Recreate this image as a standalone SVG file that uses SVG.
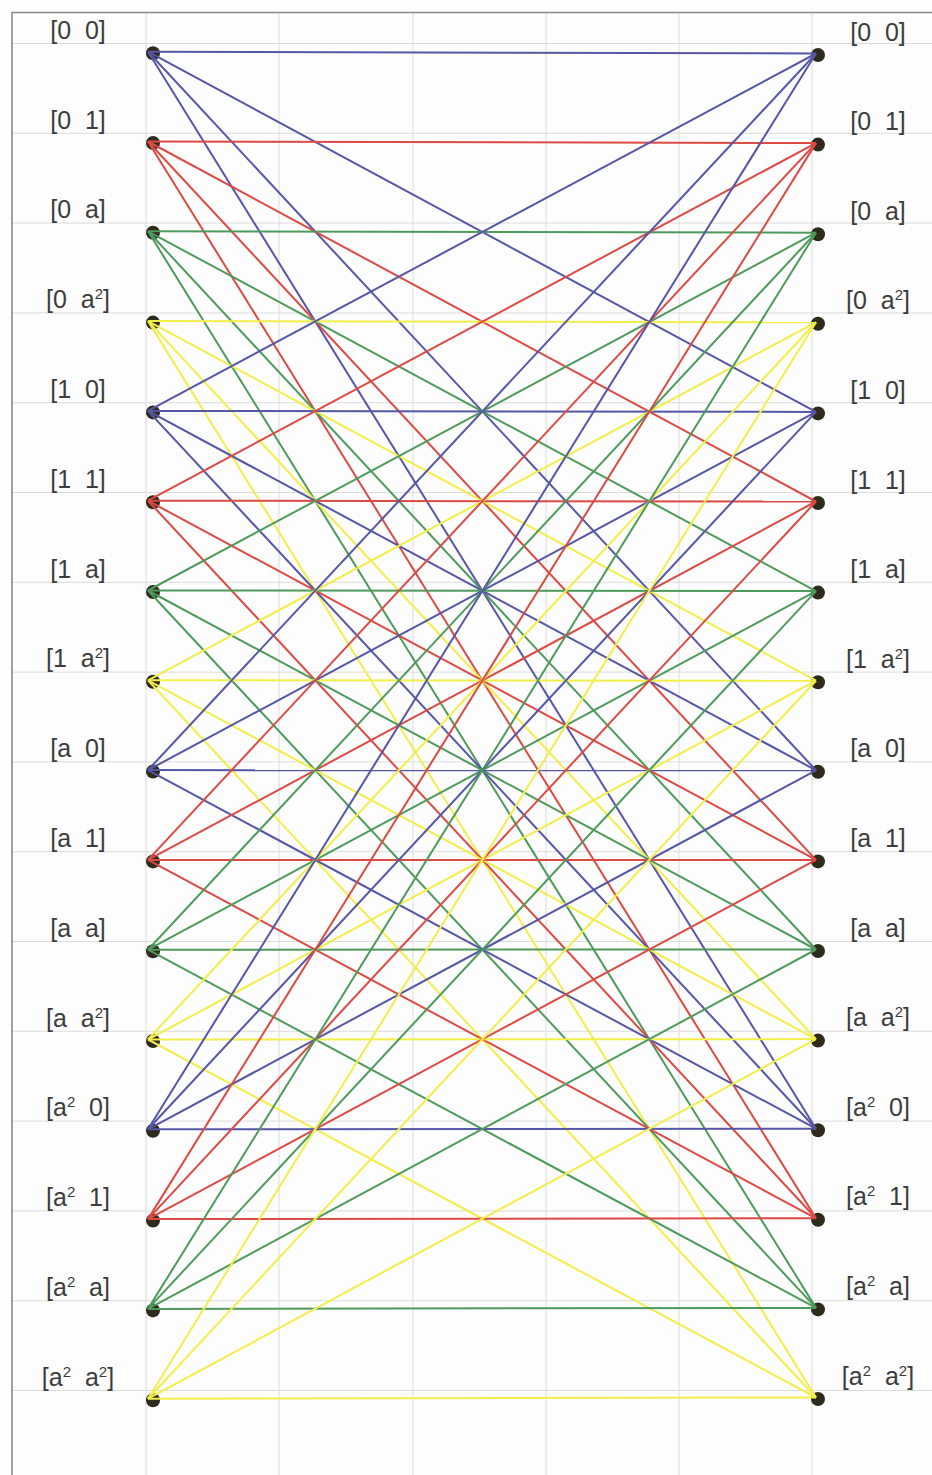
<svg xmlns="http://www.w3.org/2000/svg" width="932" height="1475" viewBox="0 0 932 1475">
<style>
.bg{fill:#fdfdfd}
.grid{stroke:#dcdcdc;stroke-width:1;fill:none}
.border{stroke:#8a8a8a;stroke-width:1.6;fill:none}
.dot{fill:#2e2a1c}
.lbl{font-family:"Liberation Sans",Arial,sans-serif;font-size:25px;fill:#3c3c3c;text-anchor:middle;white-space:pre}
.sup{font-size:15px}
.b{stroke:#5656a6;stroke-width:2}
.r{stroke:#dc4a44;stroke-width:2}
.g{stroke:#4e9a5c;stroke-width:2}
.y{stroke:#f2ee4a;stroke-width:2}
</style>
<rect class="bg" x="0" y="0" width="932" height="1475"/>
<g id="grid"><path class="grid" d="M146 12V1475M279 12V1475M413 12V1475M546 12V1475M679 12V1475M812 12V1475M12 43.5H932M12 133.3H932M12 223.1H932M12 312.9H932M12 402.7H932M12 492.5H932M12 582.3H932M12 672.1H932M12 761.9H932M12 851.7H932M12 941.5H932M12 1031.3H932M12 1121.1H932M12 1210.9H932M12 1300.7H932M12 1390.5H932"/><path class="border" d="M12 1475V12.5H932"/></g>
<g id="nodes-left">
<g id="L-0-0"><circle class="dot" cx="153" cy="53.2" r="7"/><text class="lbl" xml:space="preserve" x="78" y="38.7">[0  0]</text></g>
<g id="L-0-1"><circle class="dot" cx="153" cy="143" r="7"/><text class="lbl" xml:space="preserve" x="78" y="128.5">[0  1]</text></g>
<g id="L-0-a"><circle class="dot" cx="153" cy="232.8" r="7"/><text class="lbl" xml:space="preserve" x="78" y="218.3">[0  a]</text></g>
<g id="L-0-a2"><circle class="dot" cx="153" cy="322.6" r="7"/><text class="lbl" xml:space="preserve" x="78" y="308.1">[0  a<tspan class="sup" dy="-9">2</tspan><tspan dy="9">]</tspan></text></g>
<g id="L-1-0"><circle class="dot" cx="153" cy="412.4" r="7"/><text class="lbl" xml:space="preserve" x="78" y="397.9">[1  0]</text></g>
<g id="L-1-1"><circle class="dot" cx="153" cy="502.2" r="7"/><text class="lbl" xml:space="preserve" x="78" y="487.7">[1  1]</text></g>
<g id="L-1-a"><circle class="dot" cx="153" cy="592" r="7"/><text class="lbl" xml:space="preserve" x="78" y="577.5">[1  a]</text></g>
<g id="L-1-a2"><circle class="dot" cx="153" cy="681.8" r="7"/><text class="lbl" xml:space="preserve" x="78" y="667.3">[1  a<tspan class="sup" dy="-9">2</tspan><tspan dy="9">]</tspan></text></g>
<g id="L-a-0"><circle class="dot" cx="153" cy="771.6" r="7"/><text class="lbl" xml:space="preserve" x="78" y="757.1">[a  0]</text></g>
<g id="L-a-1"><circle class="dot" cx="153" cy="861.4" r="7"/><text class="lbl" xml:space="preserve" x="78" y="846.9">[a  1]</text></g>
<g id="L-a-a"><circle class="dot" cx="153" cy="951.2" r="7"/><text class="lbl" xml:space="preserve" x="78" y="936.7">[a  a]</text></g>
<g id="L-a-a2"><circle class="dot" cx="153" cy="1041" r="7"/><text class="lbl" xml:space="preserve" x="78" y="1026.5">[a  a<tspan class="sup" dy="-9">2</tspan><tspan dy="9">]</tspan></text></g>
<g id="L-a2-0"><circle class="dot" cx="153" cy="1130.8" r="7"/><text class="lbl" xml:space="preserve" x="78" y="1116.3">[a<tspan class="sup" dy="-9">2</tspan><tspan dy="9">  0]</tspan></text></g>
<g id="L-a2-1"><circle class="dot" cx="153" cy="1220.6" r="7"/><text class="lbl" xml:space="preserve" x="78" y="1206.1">[a<tspan class="sup" dy="-9">2</tspan><tspan dy="9">  1]</tspan></text></g>
<g id="L-a2-a"><circle class="dot" cx="153" cy="1310.4" r="7"/><text class="lbl" xml:space="preserve" x="78" y="1295.9">[a<tspan class="sup" dy="-9">2</tspan><tspan dy="9">  a]</tspan></text></g>
<g id="L-a2-a2"><circle class="dot" cx="153" cy="1400.2" r="7"/><text class="lbl" xml:space="preserve" x="78" y="1385.7">[a<tspan class="sup" dy="-9">2</tspan><tspan dy="9">  a</tspan><tspan class="sup" dy="-9">2</tspan><tspan dy="9">]</tspan></text></g>
</g>
<g id="nodes-right">
<g id="R-0-0"><circle class="dot" cx="818" cy="55" r="7"/><text class="lbl" xml:space="preserve" x="878" y="40.5">[0  0]</text></g>
<g id="R-0-1"><circle class="dot" cx="818" cy="144.6" r="7"/><text class="lbl" xml:space="preserve" x="878" y="130.1">[0  1]</text></g>
<g id="R-0-a"><circle class="dot" cx="818" cy="234.2" r="7"/><text class="lbl" xml:space="preserve" x="878" y="219.7">[0  a]</text></g>
<g id="R-0-a2"><circle class="dot" cx="818" cy="323.8" r="7"/><text class="lbl" xml:space="preserve" x="878" y="309.3">[0  a<tspan class="sup" dy="-9">2</tspan><tspan dy="9">]</tspan></text></g>
<g id="R-1-0"><circle class="dot" cx="818" cy="413.4" r="7"/><text class="lbl" xml:space="preserve" x="878" y="398.9">[1  0]</text></g>
<g id="R-1-1"><circle class="dot" cx="818" cy="503" r="7"/><text class="lbl" xml:space="preserve" x="878" y="488.5">[1  1]</text></g>
<g id="R-1-a"><circle class="dot" cx="818" cy="592.6" r="7"/><text class="lbl" xml:space="preserve" x="878" y="578.1">[1  a]</text></g>
<g id="R-1-a2"><circle class="dot" cx="818" cy="682.2" r="7"/><text class="lbl" xml:space="preserve" x="878" y="667.7">[1  a<tspan class="sup" dy="-9">2</tspan><tspan dy="9">]</tspan></text></g>
<g id="R-a-0"><circle class="dot" cx="818" cy="771.8" r="7"/><text class="lbl" xml:space="preserve" x="878" y="757.3">[a  0]</text></g>
<g id="R-a-1"><circle class="dot" cx="818" cy="861.4" r="7"/><text class="lbl" xml:space="preserve" x="878" y="846.9">[a  1]</text></g>
<g id="R-a-a"><circle class="dot" cx="818" cy="951" r="7"/><text class="lbl" xml:space="preserve" x="878" y="936.5">[a  a]</text></g>
<g id="R-a-a2"><circle class="dot" cx="818" cy="1040.6" r="7"/><text class="lbl" xml:space="preserve" x="878" y="1026.1">[a  a<tspan class="sup" dy="-9">2</tspan><tspan dy="9">]</tspan></text></g>
<g id="R-a2-0"><circle class="dot" cx="818" cy="1130.2" r="7"/><text class="lbl" xml:space="preserve" x="878" y="1115.7">[a<tspan class="sup" dy="-9">2</tspan><tspan dy="9">  0]</tspan></text></g>
<g id="R-a2-1"><circle class="dot" cx="818" cy="1219.8" r="7"/><text class="lbl" xml:space="preserve" x="878" y="1205.3">[a<tspan class="sup" dy="-9">2</tspan><tspan dy="9">  1]</tspan></text></g>
<g id="R-a2-a"><circle class="dot" cx="818" cy="1309.4" r="7"/><text class="lbl" xml:space="preserve" x="878" y="1294.9">[a<tspan class="sup" dy="-9">2</tspan><tspan dy="9">  a]</tspan></text></g>
<g id="R-a2-a2"><circle class="dot" cx="818" cy="1399" r="7"/><text class="lbl" xml:space="preserve" x="878" y="1384.5">[a<tspan class="sup" dy="-9">2</tspan><tspan dy="9">  a</tspan><tspan class="sup" dy="-9">2</tspan><tspan dy="9">]</tspan></text></g>
</g>
<g id="connectors">
<line class="b" x1="148" y1="51.7" x2="816" y2="53.5"/><line class="b" x1="148" y1="51.7" x2="816" y2="411.9"/><line class="b" x1="148" y1="51.7" x2="816" y2="770.3"/><line class="b" x1="148" y1="51.7" x2="816" y2="1128.7"/>
<line class="r" x1="148" y1="141.5" x2="816" y2="143.1"/><line class="r" x1="148" y1="141.5" x2="816" y2="501.5"/><line class="r" x1="148" y1="141.5" x2="816" y2="859.9"/><line class="r" x1="148" y1="141.5" x2="816" y2="1218.3"/>
<line class="g" x1="148" y1="231.3" x2="816" y2="232.7"/><line class="g" x1="148" y1="231.3" x2="816" y2="591.1"/><line class="g" x1="148" y1="231.3" x2="816" y2="949.5"/><line class="g" x1="148" y1="231.3" x2="816" y2="1307.9"/>
<line class="y" x1="148" y1="321.1" x2="816" y2="322.3"/><line class="y" x1="148" y1="321.1" x2="816" y2="680.7"/><line class="y" x1="148" y1="321.1" x2="816" y2="1039.1"/><line class="y" x1="148" y1="321.1" x2="816" y2="1397.5"/>
<line class="b" x1="148" y1="410.9" x2="816" y2="53.5"/><line class="b" x1="148" y1="410.9" x2="816" y2="411.9"/><line class="b" x1="148" y1="410.9" x2="816" y2="770.3"/><line class="b" x1="148" y1="410.9" x2="816" y2="1128.7"/>
<line class="r" x1="148" y1="500.7" x2="816" y2="143.1"/><line class="r" x1="148" y1="500.7" x2="816" y2="501.5"/><line class="r" x1="148" y1="500.7" x2="816" y2="859.9"/><line class="r" x1="148" y1="500.7" x2="816" y2="1218.3"/>
<line class="g" x1="148" y1="590.5" x2="816" y2="232.7"/><line class="g" x1="148" y1="590.5" x2="816" y2="591.1"/><line class="g" x1="148" y1="590.5" x2="816" y2="949.5"/><line class="g" x1="148" y1="590.5" x2="816" y2="1307.9"/>
<line class="y" x1="148" y1="680.3" x2="816" y2="322.3"/><line class="y" x1="148" y1="680.3" x2="816" y2="680.7"/><line class="y" x1="148" y1="680.3" x2="816" y2="1039.1"/><line class="y" x1="148" y1="680.3" x2="816" y2="1397.5"/>
<line class="b" x1="148" y1="770.1" x2="816" y2="53.5"/><line class="b" x1="148" y1="770.1" x2="816" y2="411.9"/><line class="b" x1="148" y1="770.1" x2="816" y2="770.3"/><line class="b" x1="148" y1="770.1" x2="816" y2="1128.7"/>
<line class="r" x1="148" y1="859.9" x2="816" y2="143.1"/><line class="r" x1="148" y1="859.9" x2="816" y2="501.5"/><line class="r" x1="148" y1="859.9" x2="816" y2="859.9"/><line class="r" x1="148" y1="859.9" x2="816" y2="1218.3"/>
<line class="g" x1="148" y1="949.7" x2="816" y2="232.7"/><line class="g" x1="148" y1="949.7" x2="816" y2="591.1"/><line class="g" x1="148" y1="949.7" x2="816" y2="949.5"/><line class="g" x1="148" y1="949.7" x2="816" y2="1307.9"/>
<line class="y" x1="148" y1="1039.5" x2="816" y2="322.3"/><line class="y" x1="148" y1="1039.5" x2="816" y2="680.7"/><line class="y" x1="148" y1="1039.5" x2="816" y2="1039.1"/><line class="y" x1="148" y1="1039.5" x2="816" y2="1397.5"/>
<line class="b" x1="148" y1="1129.3" x2="816" y2="53.5"/><line class="b" x1="148" y1="1129.3" x2="816" y2="411.9"/><line class="b" x1="148" y1="1129.3" x2="816" y2="770.3"/><line class="b" x1="148" y1="1129.3" x2="816" y2="1128.7"/>
<line class="r" x1="148" y1="1219.1" x2="816" y2="143.1"/><line class="r" x1="148" y1="1219.1" x2="816" y2="501.5"/><line class="r" x1="148" y1="1219.1" x2="816" y2="859.9"/><line class="r" x1="148" y1="1219.1" x2="816" y2="1218.3"/>
<line class="g" x1="148" y1="1308.9" x2="816" y2="232.7"/><line class="g" x1="148" y1="1308.9" x2="816" y2="591.1"/><line class="g" x1="148" y1="1308.9" x2="816" y2="949.5"/><line class="g" x1="148" y1="1308.9" x2="816" y2="1307.9"/>
<line class="y" x1="148" y1="1398.7" x2="816" y2="322.3"/><line class="y" x1="148" y1="1398.7" x2="816" y2="680.7"/><line class="y" x1="148" y1="1398.7" x2="816" y2="1039.1"/><line class="y" x1="148" y1="1398.7" x2="816" y2="1397.5"/>
</g>
</svg>
